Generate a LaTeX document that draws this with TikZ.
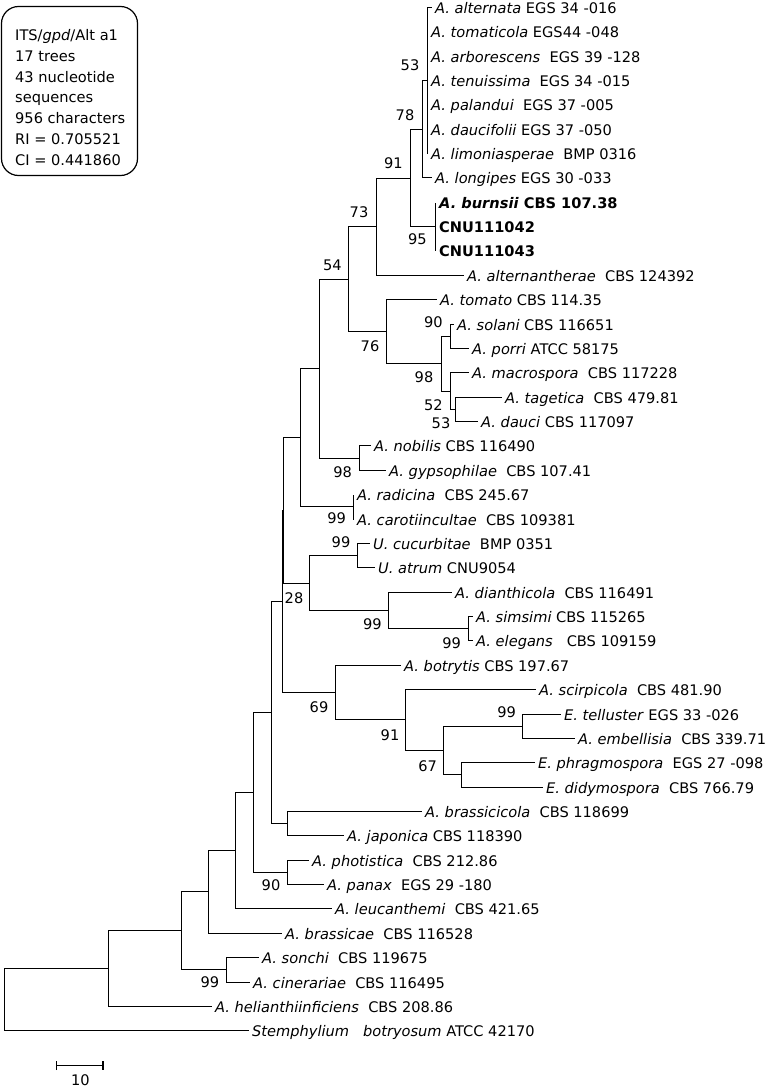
\documentclass[tikz,border=0pt]{standalone}
\usepackage{fontspec}
\setmainfont{DejaVu Sans}
\usetikzlibrary{arrows.meta}
\newcommand{\spname}[1]{\textit{#1}}

\begin{document}
\begin{tikzpicture}[x=1pt, y=-1pt,
		every node/.style = {font=\fontsize{14.6}{17}\selectfont},
		branch/.style = {line width=1.3pt},
		leaf/.style = {anchor=west, inner xsep=3.5pt, inner ysep=0pt, text height=11pt, text depth=0pt},
		boot/.style = {inner sep=0pt},
		infotext/.style = {anchor=north west, align=left, inner sep=0pt, font=\fontsize{14.6}{20.8}\selectfont},
		infobox/.style = {draw, line width=1.2pt, rounded corners=17pt, minimum width=136pt, minimum height=169pt, inner sep=0pt}]
	\useasboundingbox (0, 0) rectangle (767, 1087) ;

	% info box
	\node[infobox] (info) at (69.5, 91) {} ;
	\node[infotext] (infotext) at (15, 29.2)
		{ITS/\textit{gpd}/Alt a1\\17 trees\\43 nucleotide\\sequences\\956 characters\\RI = 0.705521\\CI = 0.441860} ;

	% taxa
	\node[leaf] (alternata) at (431.5, 7.5) {\spname{A. alternata} EGS 34 -016} ;
	\node[leaf] (tomaticola) at (427.5, 31.5) {\spname{A. tomaticola} EGS44 -048} ;
	\node[leaf] (arborescens) at (427.5, 56.5) {\spname{A. arborescens}\ \ EGS 39 -128} ;
	\node[leaf] (tenuissima) at (427.5, 80.5) {\spname{A. tenuissima}\ \ EGS 34 -015} ;
	\node[leaf] (palandui) at (427.5, 104.5) {\spname{A. palandui}\ \ EGS 37 -005} ;
	\node[leaf] (daucifolii) at (427.5, 129.5) {\spname{A. daucifolii} EGS 37 -050} ;
	\node[leaf] (limoniasperae) at (427.5, 153.5) {\spname{A. limoniasperae}\ \ BMP 0316} ;
	\node[leaf] (longipes) at (431.5, 177.5) {\spname{A. longipes} EGS 30 -033} ;
	\node[leaf] (burnsii) at (435.5, 202.5) {\textbf{\spname{A. burnsii} CBS 107.38}} ;
	\node[leaf] (cnu42) at (435.5, 226.5) {\textbf{CNU111042}} ;
	\node[leaf] (cnu43) at (435.5, 250.5) {\textbf{CNU111043}} ;
	\node[leaf] (alternantherae) at (463.5, 275.5) {\spname{A. alternantherae}\ \ CBS 124392} ;
	\node[leaf] (tomato) at (436.5, 299.5) {\spname{A. tomato} CBS 114.35} ;
	\node[leaf] (solani) at (453.5, 324.5) {\spname{A. solani} CBS 116651} ;
	\node[leaf] (porri) at (468.5, 348.5) {\spname{A. porri} ATCC 58175} ;
	\node[leaf] (macrospora) at (468.5, 372.5) {\spname{A. macrospora}\ \ CBS 117228} ;
	\node[leaf] (tagetica) at (501.5, 397.5) {\spname{A. tagetica}\ \ CBS 479.81} ;
	\node[leaf] (dauci) at (477.5, 421.5) {\spname{A. dauci} CBS 117097} ;
	\node[leaf] (nobilis) at (370.5, 445.5) {\spname{A. nobilis} CBS 116490} ;
	\node[leaf] (gypsophilae) at (385.5, 470.5) {\spname{A. gypsophilae}\ \ CBS 107.41} ;
	\node[leaf] (radicina) at (353.5, 494.5) {\spname{A. radicina}\ \ CBS 245.67} ;
	\node[leaf] (carotiincultae) at (353.5, 519.5) {\spname{A. carotiincultae}\ \ CBS 109381} ;
	\node[leaf] (cucurbitae) at (369.5, 543.5) {\spname{U. cucurbitae}\ \ BMP 0351} ;
	\node[leaf] (atrum) at (374.5, 567.5) {\spname{U. atrum} CNU9054} ;
	\node[leaf] (dianthicola) at (451.5, 592.5) {\spname{A. dianthicola}\ \ CBS 116491} ;
	\node[leaf] (simsimi) at (472.5, 616.5) {\spname{A. simsimi} CBS 115265} ;
	\node[leaf] (elegans) at (472.5, 640.5) {\spname{A. elegans}\ \ \ CBS 109159} ;
	\node[leaf] (botrytis) at (400.5, 665.5) {\spname{A. botrytis} CBS 197.67} ;
	\node[leaf] (scirpicola) at (535.5, 689.5) {\spname{A. scirpicola}\ \ CBS 481.90} ;
	\node[leaf] (telluster) at (560.5, 714.5) {\spname{E. telluster} EGS 33 -026} ;
	\node[leaf] (embellisia) at (574.5, 738.5) {\spname{A. embellisia}\ \ CBS 339.71} ;
	\node[leaf] (phragmospora) at (534.5, 762.5) {\spname{E. phragmospora}\ \ EGS 27 -098} ;
	\node[leaf] (didymospora) at (542.5, 787.5) {\spname{E. didymospora}\ \ CBS 766.79} ;
	\node[leaf] (brassicicola) at (421.5, 811.5) {\spname{A. brassicicola}\ \ CBS 118699} ;
	\node[leaf] (japonica) at (343.5, 835.5) {\spname{A. japonica} CBS 118390} ;
	\node[leaf] (photistica) at (308.5, 860.5) {\spname{A. photistica}\ \ CBS 212.86} ;
	\node[leaf] (panax) at (323.5, 884.5) {\spname{A. panax}\ \ EGS 29 -180} ;
	\node[leaf] (leucanthemi) at (331.5, 908.5) {\spname{A. leucanthemi}\ \ CBS 421.65} ;
	\node[leaf] (brassicae) at (281.5, 933.5) {\spname{A. brassicae}\ \ CBS 116528} ;
	\node[leaf] (sonchi) at (258.5, 957.5) {\spname{A. sonchi}\ \ CBS 119675} ;
	\node[leaf] (cinerariae) at (249.5, 982.5) {\spname{A. cinerariae}\ \ CBS 116495} ;
	\node[leaf] (helianthiinficiens) at (211.5, 1006.5) {\spname{A. helianthiinficiens}\ \ CBS 208.86} ;
	\node[leaf] (stemphylium) at (248.5, 1030.5) {\spname{Stemphylium\ \ \ botryosum} ATCC 42170} ;

	% internal nodes
	\coordinate (n53) at (427.5, 80.5) ;
	\coordinate (n78) at (422.5, 129.5) ;
	\coordinate (n95) at (435.5, 226.5) ;
	\coordinate (n91) at (410.5, 178.5) ;
	\coordinate (n73) at (376.5, 226.5) ;
	\coordinate (n90a) at (450.5, 336.5) ;
	\coordinate (n53b) at (455.5, 409.5) ;
	\coordinate (n52) at (450.5, 391.5) ;
	\coordinate (n98a) at (441.5, 363.5) ;
	\coordinate (n76) at (386.5, 331.5) ;
	\coordinate (n54) at (348.5, 279.5) ;
	\coordinate (n98b) at (359.5, 458.5) ;
	\coordinate (na) at (319.5, 368.5) ;
	\coordinate (n99r) at (353.5, 506.5) ;
	\coordinate (nb) at (300.5, 437.5) ;
	\coordinate (n99u) at (357.5, 555.5) ;
	\coordinate (n99e) at (468.5, 628.5) ;
	\coordinate (n99d) at (388.5, 610.5) ;
	\coordinate (n28) at (309.5, 583.5) ;
	\coordinate (nc) at (283.5, 510.5) ;
	\coordinate (n99t) at (522.5, 726.5) ;
	\coordinate (nph) at (461.5, 774.5) ;
	\coordinate (n67) at (443.5, 750.5) ;
	\coordinate (n91b) at (405.5, 719.5) ;
	\coordinate (n69) at (335.5, 692.5) ;
	\coordinate (nd) at (282.5, 601.5) ;
	\coordinate (nbj) at (287.5, 823.5) ;
	\coordinate (ne) at (271.5, 712.5) ;
	\coordinate (n90b) at (287.5, 872.5) ;
	\coordinate (nf) at (253.5, 792.5) ;
	\coordinate (ng) at (235.5, 850.5) ;
	\coordinate (nh) at (208.5, 891.5) ;
	\coordinate (n99s) at (226.5, 969.5) ;
	\coordinate (ni) at (181.5, 930.5) ;
	\coordinate (nj) at (108.5, 968.5) ;
	\coordinate (n0) at (4.5, 999.5) ;

	% branches
	\foreach \p/\c in {n53/alternata, n53/tomaticola, n53/arborescens, n53/tenuissima,
			n53/palandui, n53/daucifolii, n53/limoniasperae, n78/n53, n78/longipes,
			n95/burnsii, n95/cnu42, n95/cnu43, n91/n78, n91/n95, n73/n91, n73/alternantherae,
			n90a/solani, n90a/porri, n53b/tagetica, n53b/dauci, n52/macrospora, n52/n53b,
			n98a/n90a, n98a/n52, n76/tomato, n76/n98a, n54/n73, n54/n76,
			n98b/nobilis, n98b/gypsophilae, na/n54, na/n98b, n99r/radicina, n99r/carotiincultae,
			nb/na, nb/n99r, n99u/cucurbitae, n99u/atrum, n99e/simsimi, n99e/elegans,
			n99d/dianthicola, n99d/n99e, n28/n99u, n28/n99d, nc/nb, nc/n28,
			n99t/telluster, n99t/embellisia, nph/phragmospora, nph/didymospora,
			n67/n99t, n67/nph, n91b/scirpicola, n91b/n67, n69/botrytis, n69/n91b,
			nd/nc, nd/n69, nbj/brassicicola, nbj/japonica, ne/nd, ne/nbj,
			n90b/photistica, n90b/panax, nf/ne, nf/n90b, ng/nf, ng/leucanthemi,
			nh/ng, nh/brassicae, n99s/sonchi, n99s/cinerariae, ni/nh, ni/n99s,
			nj/ni, nj/helianthiinficiens, n0/nj, n0/stemphylium}
		\draw[branch] (\p) |- (\c) ;

	% bootstrap values
	\node[boot] (b53) at (410, 65) {53} ;
	\node[boot] (b78) at (405, 115) {78} ;
	\node[boot] (b91) at (393.3, 163.3) {91} ;
	\node[boot] (b95) at (417.3, 239.3) {95} ;
	\node[boot] (b73) at (359, 211.7) {73} ;
	\node[boot] (b54) at (332.3, 265) {54} ;
	\node[boot] (b76) at (370, 346) {76} ;
	\node[boot] (b90a) at (433.3, 321.7) {90} ;
	\node[boot] (b98a) at (424, 377.3) {98} ;
	\node[boot] (b52) at (433.3, 405) {52} ;
	\node[boot] (b53b) at (441, 422.7) {53} ;
	\node[boot] (b98b) at (342.7, 471.7) {98} ;
	\node[boot] (b99r) at (336.7, 518.3) {99} ;
	\node[boot] (b99u) at (341, 542.3) {99} ;
	\node[boot] (b28) at (294, 597.7) {28} ;
	\node[boot] (b99d) at (372.3, 624) {99} ;
	\node[boot] (b99e) at (451.7, 642.7) {99} ;
	\node[boot] (b69) at (319, 706.7) {69} ;
	\node[boot] (b91b) at (390, 735) {91} ;
	\node[boot] (b67) at (427.7, 765.7) {67} ;
	\node[boot] (b99t) at (506.7, 712.3) {99} ;
	\node[boot] (b90b) at (271, 885) {90} ;
	\node[boot] (b99s) at (210, 982.3) {99} ;

	% scale bar
	\coordinate (bar0) at (55.5, 1065.5) ;
	\coordinate (bar1) at (103.5, 1065.5) ;
	\draw[branch, {Bar[width=9pt]}-{Bar[width=9pt]}] (bar0) -- (bar1) ;
	\node[boot] (barlabel) at (80.5, 1079.8) {10} ;
\end{tikzpicture}
\end{document}
